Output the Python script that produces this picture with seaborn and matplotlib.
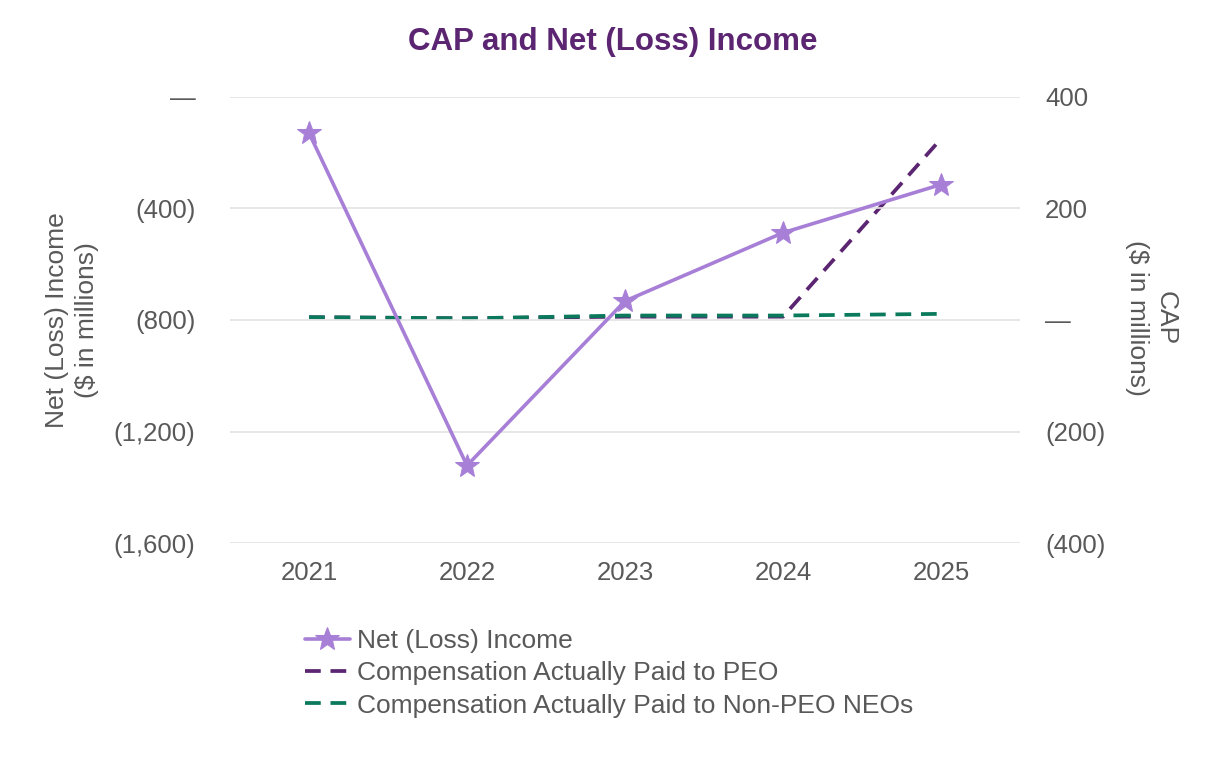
import matplotlib
matplotlib.use("Agg")
import matplotlib.pyplot as plt
import matplotlib.ticker as mticker
import seaborn as sns
import pandas as pd

# data ($ in millions)
years = [2021, 2022, 2023, 2024, 2025]
net_income = [-129, -1322, -732, -487, -314]
cap_peo = [5, 3, 6, 6, 325]
cap_non_peo = [5, 3, 8, 8, 11]

left_ticks = [0, -400, -800, -1200, -1600]
left_labels = ["\u2014", "(400)", "(800)", "(1,200)", "(1,600)"]
right_ticks = [400, 200, 0, -200, -400]
right_labels = ["400", "200", "\u2014", "(200)", "(400)"]

c_net = "#A77FD6"
c_peo = "#5B2571"
c_non = "#0B7A5C"
c_text = "#595959"
fs = 18.5

sns.set_style("white")
plt.rcParams["font.family"] = ["Liberation Sans", "DejaVu Sans"]

df = pd.DataFrame({"year": years, "net": net_income, "peo": cap_peo, "non": cap_non_peo})

fig, ax = plt.subplots(figsize=(12.26, 7.6), dpi=100)
fig.subplots_adjust(left=0.1876, right=0.8320, top=0.8724, bottom=0.2855)
ax2 = ax.twinx()

dash = (0, (4.2, 2.6))
sns.lineplot(data=df, x="year", y="peo", ax=ax2, color=c_peo, linewidth=2.7,
             linestyle=dash, label="Compensation Actually Paid to PEO", legend=False)
sns.lineplot(data=df, x="year", y="non", ax=ax2, color=c_non, linewidth=2.7,
             linestyle=dash, label="Compensation Actually Paid to Non-PEO NEOs", legend=False)
sns.lineplot(data=df, x="year", y="net", ax=ax, color=c_net, linewidth=2.6,
             marker="*", markersize=18, markeredgecolor=c_net, label="Net (Loss) Income", legend=False)

# draw net income on top of the twin axis
ax.set_zorder(ax2.get_zorder() + 1)
ax.patch.set_visible(False)

ax.set_xlim(2020.5, 2025.5)
ax.set_ylim(-1600, 0)
ax2.set_ylim(-400, 400)
ax.set_xticks(years)
ax.set_xticklabels([str(y) for y in years])
ax.yaxis.set_major_locator(mticker.FixedLocator(left_ticks))
ax.set_yticklabels(left_labels)
ax2.yaxis.set_major_locator(mticker.FixedLocator(right_ticks))
ax2.set_yticklabels(right_labels)

ax.grid(axis="y", color="#E3E3E3", linewidth=1.2)
ax.set_axisbelow(True)
for a in (ax, ax2):
    for s in a.spines.values():
        s.set_visible(False)
    a.tick_params(length=0, labelsize=fs, labelcolor=c_text)
ax.tick_params(axis="y", pad=25)
ax2.tick_params(axis="y", pad=18)
ax.tick_params(axis="x", pad=13)

ax.set_xlabel("")
ax.set_ylabel("Net (Loss) Income\n($ in millions)", fontsize=fs + 0.5, color=c_text, linespacing=1.3)
ax.yaxis.set_label_coords(-0.2, 0.5)
ax.yaxis.label.set_va("center")
ax2.set_ylabel("CAP\n($ in millions)", fontsize=fs + 0.5, color=c_text, rotation=270, linespacing=1.25)
ax2.yaxis.set_label_coords(1.166, 0.505)
ax2.yaxis.label.set_va("center")
ax2.yaxis.label.set_ha("center")

fig.text(0.5, 1 - 42 / 760, "CAP and Net (Loss) Income", ha="center", va="center",
         fontsize=22.5, fontweight="bold", color=c_peo)

h1, l1 = ax.get_legend_handles_labels()
h2, l2 = ax2.get_legend_handles_labels()
leg = fig.legend(h1 + h2, l1 + l2, loc="upper left", bbox_to_anchor=(0.240, 0.186), frameon=False,
                 fontsize=fs + 0.5, handlelength=1.7, handletextpad=0.28, labelspacing=0.31, borderaxespad=0)
for t in leg.get_texts():
    t.set_color(c_text)

fig.savefig("out.png", dpi=100)
